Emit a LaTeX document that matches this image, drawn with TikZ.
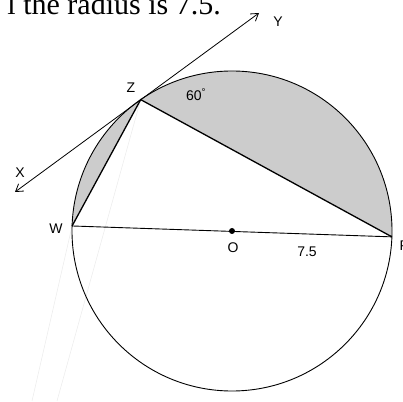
\documentclass[tikz,border=0pt]{standalone}
\usepackage{fontspec}
\setmainfont{Liberation Sans}
\newfontfamily\seriffont{Liberation Serif}
\usetikzlibrary{arrows.meta,calc}
\begin{document}
\begin{tikzpicture}[x=1pt,y=1pt,
  lbl/.style={font=\fontsize{14}{14}\selectfont, inner sep=0pt},
  chord/.style={line width=1.3pt},
  seg/.style={fill=black!20},
  faint/.style={draw=black!7, line width=0.6pt},
  circ/.style={line width=0.9pt},
  tang/.style={line width=0.8pt, {Straight Barb[length=7pt,width=9pt]}-{Straight Barb[length=7pt,width=9pt]}}]
\useasboundingbox (0,0) rectangle (403,401);
\def\R{160}
\coordinate (O) at (232,170);
\coordinate (Z) at ($(O)+(124.8:\R)$);
\coordinate (W) at ($(O)+(178.2:\R)$);
\coordinate (V) at ($(O)+(-2.1:\R)$);
\coordinate (Xt) at (15,209);
\coordinate (Yt) at (259,388);
\coordinate (F1) at (57,0);
\coordinate (F2) at (32,0);
% faint lines
\draw[faint] (Z) -- (F1);
\draw[faint] (W) -- (F2);
% shaded segments
\fill[seg] (Z) arc[start angle=124.8,end angle=-2.1,radius=\R] -- cycle;
\fill[seg] (W) arc[start angle=178.2,end angle=124.8,radius=\R] -- cycle;
\draw[circ] (O) circle[radius=\R];
\draw[chord] (W) -- (Z) -- (V);
\draw[circ] (W) -- (V);
\draw[tang] (Xt) -- (Yt);
\fill (O) circle[radius=3];
% labels
\node[anchor=base east, inner sep=0pt, font=\seriffont\fontsize{30}{30}\selectfont] (title) at (221,386) {l the radius is 7.5.};
\node[lbl] (lZ) at (131,313) {Z};
\node[lbl] (lX) at (20,228) {X};
\node[lbl] (lY) at (278,379) {Y};
\node[lbl] (lW) at (56,172) {W};
\node[lbl] (lO) at (233,153) {O};
\node[lbl] (lr) at (307,149) {7.5};
\node[lbl] (la) at (196,306) {60\textsuperscript{°}};
\node[lbl, anchor=west] (lV) at (399.5,155) {P};
\end{tikzpicture}
\end{document}
